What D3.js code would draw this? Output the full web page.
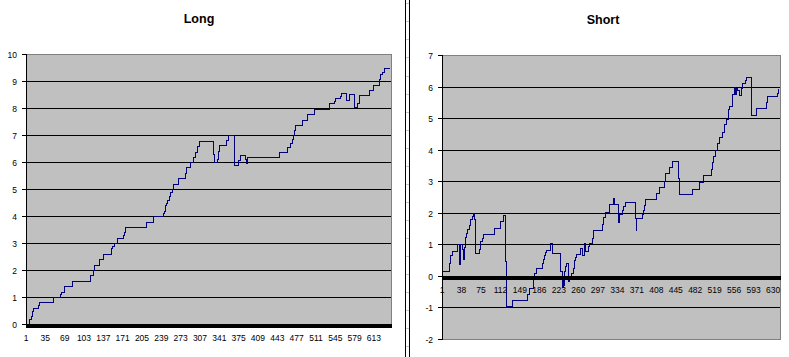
<!DOCTYPE html>
<html><head><meta charset="utf-8">
<script src="https://cdn.jsdelivr.net/npm/d3@7"></script>
<style>html,body{margin:0;padding:0;background:#fff;overflow:hidden}</style>
</head><body>
<svg id="c" width="789" height="357" xmlns="http://www.w3.org/2000/svg"></svg>
<script>
// ---- Data (category index where the equity steps, and the new value) ----
const longIdx = [1,8,10,12,13,14,23,25,49,61,64,68,82,115,119,121,130,138,151,154,157,162,173,175,176,213,225,242,244,247,248,250,253,255,258,261,270,282,284,290,296,299,303,306,330,331,333,337,339,340,341,353,357,367,368,374,378,387,389,391,447,461,467,470,471,473,475,488,496,509,535,543,545,555,556,564,570,578,584,587,606,612,622,625,628,631,641];
const longVal = [0,0.2,0.3,0.4,0.5,0.6,0.7,0.8,1.0,1.1,1.18,1.4,1.58,1.8,2.0,2.17,2.4,2.59,2.8,2.9,3.0,3.19,3.3,3.4,3.58,3.79,3.99,4.1,4.2,4.4,4.5,4.6,4.75,4.9,5.0,5.17,5.39,5.6,5.8,6.0,6.2,6.38,6.58,6.79,6.7,6.3,6.0,6.1,6.2,6.4,6.63,6.8,6.99,6.4,5.88,6.06,6.25,6.1,5.95,6.17,6.36,6.56,6.7,6.85,7.0,7.2,7.37,7.56,7.77,7.96,8.17,8.25,8.36,8.45,8.54,8.3,8.53,8.05,8.2,8.47,8.67,8.85,9.06,9.25,9.35,9.47,9.47];

const shortIdx = [1,2,15,17,18,21,30,34,37,39,41,44,46,48,50,53,55,56,58,60,62,64,65,72,74,75,77,79,101,112,113,117,118,122,124,135,163,168,174,177,180,191,193,196,198,200,208,210,227,229,231,232,234,236,238,241,244,247,250,252,254,256,265,267,271,274,279,282,287,288,306,307,312,320,327,329,336,338,343,345,350,369,370,371,381,383,385,388,408,414,423,426,433,439,450,453,476,491,498,513,515,517,520,524,528,533,537,541,545,548,552,553,557,558,561,562,567,569,571,578,580,589,599,617,619,638,640,642];
const shortVal = [0,0.17,0.4,0.55,0.65,0.79,1.0,0.37,1.0,0.85,0.55,0.9,1.24,1.35,1.5,1.6,1.7,1.8,1.9,1.98,1.8,1.48,0.72,0.85,1.0,1.1,1.2,1.33,1.51,1.6,1.75,1.85,1.93,0.48,-0.97,-0.76,-0.58,-0.37,0,0.1,0.24,0.4,0.55,0.65,0.75,0.82,1.05,0.73,0.15,-0.34,0,-0.3,0.15,0.3,0.42,-0.15,0,0.1,0.25,0.5,0.59,0.69,0.87,0.65,1.05,0.8,0.95,1.05,1.2,1.45,1.65,1.86,2.03,2.27,2.47,2.27,1.72,1.95,2.1,2.2,2.33,1.85,1.45,1.83,1.95,2.1,2.25,2.43,2.64,2.81,3.0,3.25,3.44,3.63,3.1,2.58,2.76,2.97,3.19,3.4,3.6,3.8,3.99,4.2,4.4,4.57,4.8,4.97,5.28,5.38,5.6,5.76,5.98,5.75,5.95,5.9,5.72,5.95,6.1,6.2,6.31,5.1,5.31,5.5,5.69,5.8,5.91,5.91];

const longXTicks = [1,35,69,103,137,171,205,239,273,307,341,375,409,443,477,511,545,579,613];
const shortXTicks = [1,38,75,112,149,186,223,260,297,334,371,408,445,482,519,556,593,630];
const longYTicks = [0,1,2,3,4,5,6,7,8,9,10];
const shortYTicks = [-2,-1,0,1,2,3,4,5,6,7];
const titles = ["Long", "Short"];
const nCategories = 643;

const FONT = "'Liberation Sans', Arial, sans-serif";
const svg = d3.select("#c");

function drawChart(cfg) {
  const g = svg.append("g");
  const x = d3.scaleLinear().domain([1, nCategories]).range([cfg.left, cfg.right]);
  const y = d3.scaleLinear().domain([cfg.yTicks[0], cfg.yTicks[cfg.yTicks.length-1]]).range([cfg.bottom, cfg.top]);
  const ry = v => Math.round(y(v));
  const top = ry(cfg.yTicks[cfg.yTicks.length-1]), bot = ry(cfg.yTicks[0]);
  const L = Math.round(cfg.left), R = Math.round(cfg.right);

  // plot area
  g.append("rect").attr("x", L).attr("y", top).attr("width", R - L).attr("height", bot - top)
    .attr("fill", "#c0c0c0");

  // gridlines
  g.selectAll("line.grid").data(cfg.yTicks.slice(1, -1)).join("line").attr("class","grid")
    .attr("x1", L).attr("x2", R).attr("y1", d => ry(d) + 0.5).attr("y2", d => ry(d) + 0.5)
    .attr("stroke", "#000").attr("stroke-width", 1).attr("shape-rendering", "crispEdges");

  // border (top, right, bottom) gray
  g.append("path").attr("d", `M${L},${top+0.5}H${R+0.5}V${bot+0.5}H${L}`)
    .attr("fill", "none").attr("stroke", "#808080").attr("stroke-width", 1).attr("shape-rendering", "crispEdges");

  // series
  const data = cfg.idx.map((d, k) => ({i: d, v: cfg.val[k]}));
  const line = d3.line().x(d => x(d.i)).y(d => y(d.v) + 0.5).curve(d3.curveStepAfter);
  g.append("path").datum(data).attr("d", line).attr("fill", "none")
    .attr("stroke", "#000080").attr("stroke-width", 1).attr("shape-rendering", "crispEdges");

  // category axis thick line at zero
  const y0 = ry(0);
  g.append("rect").attr("x", L).attr("y", y0).attr("width", R - L + 1).attr("height", 4).attr("fill", "#000");

  // value axis line and ticks
  g.append("line").attr("x1", L + 0.5).attr("x2", L + 0.5).attr("y1", top).attr("y2", bot + 1)
    .attr("stroke", "#000").attr("shape-rendering", "crispEdges");
  g.selectAll("line.tick").data(cfg.yTicks).join("line").attr("class","tick")
    .attr("x1", L - 4).attr("x2", L).attr("y1", d => ry(d) + 0.5).attr("y2", d => ry(d) + 0.5)
    .attr("stroke", "#000").attr("shape-rendering", "crispEdges");

  // y labels
  g.selectAll("text.yl").data(cfg.yTicks).join("text").attr("class","yl")
    .attr("x", L - 9).attr("y", d => ry(d) + 3.5).attr("text-anchor", "end")
    .attr("font-family", FONT).attr("font-size", 8.5).attr("fill", "#000").text(d => d);

  // x labels
  g.selectAll("text.xl").data(cfg.xTicks).join("text").attr("class","xl")
    .attr("x", d => x(d)).attr("y", y0 + 17).attr("text-anchor", "middle")
    .attr("font-family", FONT).attr("font-size", 8.5).attr("fill", "#000").text(d => d);

  // title
  g.append("text").attr("x", cfg.titleX).attr("y", cfg.titleY).attr("text-anchor", "middle")
    .attr("font-family", FONT).attr("font-size", 12.5).attr("font-weight", "bold")
    .attr("fill", "#000").text(cfg.title);
}

drawChart({title: titles[0], idx: longIdx, val: longVal, xTicks: longXTicks, yTicks: longYTicks,
  left: 26, right: 391, top: 54, bottom: 324, titleX: 199, titleY: 22.5});
drawChart({title: titles[1], idx: shortIdx, val: shortVal, xTicks: shortXTicks, yTicks: shortYTicks,
  left: 442, right: 780, top: 55, bottom: 339, titleX: 603, titleY: 23.5});

// separator between the two charts (sheet cell borders visible between them)
const sep = svg.append("g");
[405.5, 409.5].forEach(xp => sep.append("line").attr("x1", xp).attr("x2", xp).attr("y1", 0).attr("y2", 357)
  .attr("stroke", "#000").attr("shape-rendering", "crispEdges"));
d3.range(3.3, 357, 18.05).forEach(yp => sep.append("line").attr("x1", 406).attr("x2", 409)
  .attr("y1", Math.round(yp) + 0.5).attr("y2", Math.round(yp) + 0.5)
  .attr("stroke", "#c8c8c8").attr("shape-rendering", "crispEdges"));
</script>
</body></html>
